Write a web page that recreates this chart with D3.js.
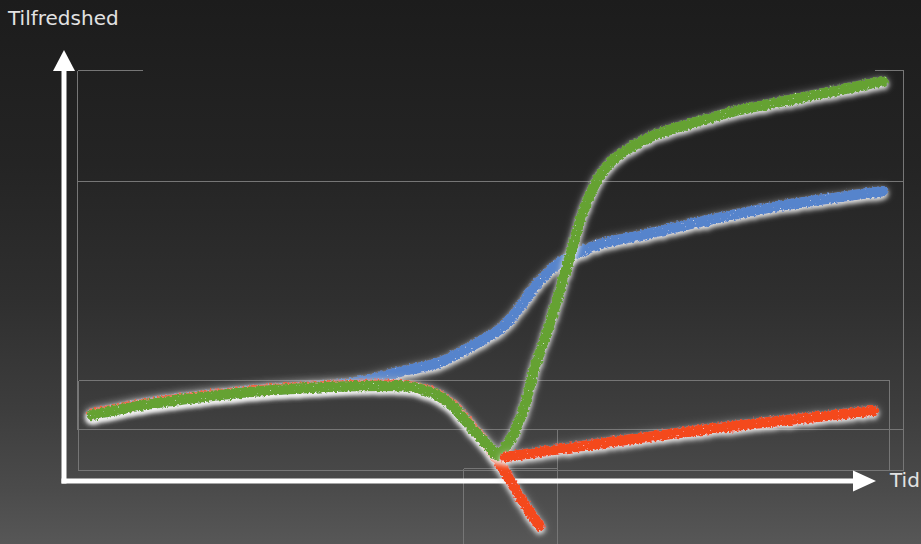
<!DOCTYPE html>
<html>
<head>
<meta charset="utf-8">
<script src="https://cdn.jsdelivr.net/npm/d3@7"></script>
<style>
  html, body { margin: 0; padding: 0; background: #1d1d1d; overflow: hidden; }
  svg { display: block; }
</style>
</head>
<body>
<svg id="chart" width="921" height="544"></svg>
<script>
// Tilfredshed over tid: three sketched development curves.
const blueTid   = [3.4, 10.5, 22.7, 34.9, 41.0, 45.9, 49.5, 53.2, 55.6, 57.1, 58.7, 60.5, 62.9, 65.4, 71.5, 77.6, 87.3, 94.6, 99.9];
const blueValue = [15.7, 18.6, 21.4, 23.3, 26.0, 28.3, 31.9, 36.2, 41.4, 45.5, 49.0, 52.1, 54.5, 56.4, 59.0, 61.7, 65.5, 67.6, 69.0];

const redTid    = [3.4, 10.5, 22.7, 32.4, 38.5, 42.2, 44.6, 47.1, 48.9, 50.7, 52.2, 53.8, 55.6, 58.0];
const redValue  = [16.0, 18.6, 21.4, 22.6, 22.9, 22.6, 21.4, 18.6, 14.8, 10.7, 6.9, 2.1, -3.8, -10.7];

const redBranchTid   = [53.8, 65.0, 77.6, 87.3, 98.7];
const redBranchValue = [5.7, 8.8, 12.1, 14.3, 16.7];

const greenTid   = [3.4, 10.5, 22.7, 32.4, 38.5, 42.2, 44.6, 47.1, 48.9, 50.7, 52.0, 52.8, 54.4, 55.9, 57.4, 59.0, 60.2, 61.3, 62.9, 64.4, 65.7, 67.2, 69.0, 72.1, 76.3, 82.4, 88.5, 94.6, 99.9];
const greenValue = [15.7, 18.3, 21.2, 22.4, 22.6, 22.4, 21.2, 18.3, 14.5, 10.5, 7.9, 6.2, 9.8, 16.2, 26.9, 36.0, 43.6, 50.7, 61.7, 69.3, 73.6, 76.9, 79.3, 82.4, 85.0, 88.3, 90.7, 93.1, 95.2];

const axisLabels = { y: "Tilfredshed", x: "Tid" };

const W = 921, H = 544;
const svg = d3.select("#chart");
const defs = svg.append("defs");

// background: dark vertical gradient
const bg = defs.append("linearGradient").attr("id", "bg").attr("x1", 0).attr("y1", 0).attr("x2", 0).attr("y2", 1);
[[0, "#1c1c1c"], [0.3, "#242424"], [0.55, "#2f2f2f"], [0.75, "#3d3d3d"], [0.9, "#4b4b4b"], [1, "#575757"]]
  .forEach(([o, c]) => bg.append("stop").attr("offset", o).attr("stop-color", c));
svg.append("rect").attr("width", W).attr("height", H).attr("fill", "url(#bg)");

// scales
const x = d3.scaleLinear().domain([0, 100]).range([64, 884]);
const y = d3.scaleLinear().domain([0, 100]).range([481, 61]);

// thin frame lines behind the plot
const frame = svg.append("g").attr("stroke", "#767676").attr("stroke-width", 1).attr("fill", "none").attr("shape-rendering", "crispEdges");
const frameLines = [
  [77.5, 70.5, 143, 70.5], [875, 70.5, 903.5, 70.5],
  [77.5, 70.5, 77.5, 430], [903.5, 70.5, 903.5, 470.5],
  [77.5, 181.5, 903.5, 181.5],
  [78.5, 380.5, 889.5, 380.5], [889.5, 380.5, 889.5, 470.5],
  [77.5, 429.5, 903.5, 429.5],
  [78.5, 380.5, 78.5, 470.5], [78.5, 470.5, 903.5, 470.5],
  [463.5, 468.5, 463.5, 544], [557.5, 428.5, 557.5, 544], [463.5, 468.5, 557.5, 468.5]
];
frameLines.forEach(([x1, y1, x2, y2]) =>
  frame.append("line").attr("x1", x1).attr("y1", y1).attr("x2", x2).attr("y2", y2));

// axes with arrow heads
const axes = svg.append("g").attr("fill", "#ffffff").attr("stroke", "#ffffff");
axes.append("line").attr("x1", x(0)).attr("y1", y(-0.6)).attr("x2", x(0)).attr("y2", 68).attr("stroke-width", 5);
axes.append("path").attr("stroke", "none").attr("d", `M${x(0)},50 L${x(0) + 11},71 L${x(0) - 11},71 Z`);
axes.append("line").attr("x1", x(0) - 2.5).attr("y1", y(0)).attr("x2", 856).attr("y2", y(0)).attr("stroke-width", 5);
axes.append("path").attr("stroke", "none").attr("d", `M876,${y(0)} L853,${y(0) - 10.5} L853,${y(0) + 10.5} Z`);

svg.append("text").attr("x", 8).attr("y", 25).text(axisLabels.y)
  .attr("font-family", "DejaVu Sans, sans-serif").attr("font-size", 20).attr("fill", "#e2e2e2");
svg.append("text").attr("x", 890).attr("y", 487).text(axisLabels.x)
  .attr("font-family", "DejaVu Sans, sans-serif").attr("font-size", 20).attr("fill", "#e2e2e2");

// chalk-like stroke filter: rough edge, a few light flecks, soft halo with a lit lower rim
function chalkFilter(id, seed) {
  const f = defs.append("filter").attr("id", id)
    .attr("filterUnits", "userSpaceOnUse").attr("x", 0).attr("y", 0).attr("width", W).attr("height", H);
  f.append("feTurbulence").attr("type", "fractalNoise").attr("baseFrequency", 0.4).attr("numOctaves", 2).attr("seed", seed).attr("result", "n");
  f.append("feDisplacementMap").attr("in", "SourceGraphic").attr("in2", "n").attr("scale", 4.5)
    .attr("xChannelSelector", "R").attr("yChannelSelector", "G").attr("result", "rough");
  f.append("feGaussianBlur").attr("in", "rough").attr("stdDeviation", 2.4).attr("result", "b");
  f.append("feColorMatrix").attr("in", "b").attr("type", "matrix")
    .attr("values", "0 0 0 0 0.92  0 0 0 0 0.92  0 0 0 0 0.92  0 0 0 0.9 0").attr("result", "halo");
  f.append("feOffset").attr("in", "halo").attr("dy", 3).attr("result", "haloOff");
  f.append("feGaussianBlur").attr("in", "rough").attr("stdDeviation", 4.5).attr("result", "b2");
  f.append("feColorMatrix").attr("in", "b2").attr("type", "matrix")
    .attr("values", "0 0 0 0 0.5  0 0 0 0 0.5  0 0 0 0 0.5  0 0 0 0.45 0").attr("result", "halo2");
  f.append("feTurbulence").attr("type", "fractalNoise").attr("baseFrequency", 0.6).attr("numOctaves", 1).attr("seed", seed + 7).attr("result", "n2");
  f.append("feColorMatrix").attr("in", "n2").attr("type", "matrix")
    .attr("values", "0 0 0 0 1  0 0 0 0 1  0 0 0 0 1  10 0 0 0 -7.2").attr("result", "spk");
  f.append("feComposite").attr("in", "spk").attr("in2", "rough").attr("operator", "in").attr("result", "spkIn");
  f.append("feComponentTransfer").attr("in", "spkIn").attr("result", "spkSoft")
    .append("feFuncA").attr("type", "linear").attr("slope", 0.7);
  const m = f.append("feMerge");
  ["halo2", "haloOff", "rough", "spkSoft"].forEach(r => m.append("feMergeNode").attr("in", r));
}
chalkFilter("chalk-blue", 3);
chalkFilter("chalk-red", 11);
chalkFilter("chalk-green", 23);
chalkFilter("chalk-red2", 31);

const line = d3.line().x(d => x(d[0])).y(d => y(d[1])).curve(d3.curveCatmullRom.alpha(0.5));
const zip = (a, b) => a.map((t, i) => [t, b[i]]);

const curves = [
  { data: zip(blueTid, blueValue), color: "#5784cc", filter: "chalk-blue" },
  { data: zip(redTid, redValue), color: "#f4481f", filter: "chalk-red" },
  { data: zip(greenTid, greenValue), color: "#65a232", filter: "chalk-green" },
  { data: zip(redBranchTid, redBranchValue), color: "#f4481f", filter: "chalk-red2" }
];

svg.append("g").selectAll("path").data(curves).join("path")
  .attr("d", d => line(d.data))
  .attr("fill", "none")
  .attr("stroke", d => d.color)
  .attr("stroke-width", 10.5)
  .attr("stroke-linecap", "round")
  .attr("stroke-linejoin", "round")
  .attr("filter", d => `url(#${d.filter})`);
</script>
</body>
</html>
